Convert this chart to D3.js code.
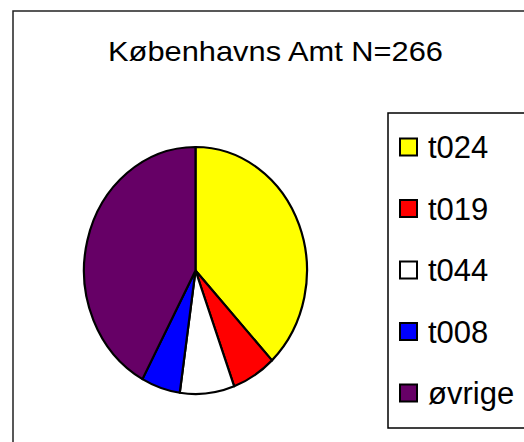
<!DOCTYPE html>
<html>
<head>
<meta charset="utf-8">
<script src="https://cdn.jsdelivr.net/npm/d3@7"></script>
<style>
  body { margin: 0; background: #fff; }
  text { font-family: "Liberation Sans", Arial, sans-serif; fill: #000; }
</style>
</head>
<body>
<div id="chart"></div>
<script>

// Chart data
let categories = ["t024", "t019", "t044", "t008", "øvrige"];
let counts = [101, 17, 21, 15, 112];
let colours = ["#ffff00", "#ff0000", "#ffffff", "#0000ff", "#660066"];
let title = "Københavns Amt N=266";

let width = 524, height = 442;

let svg = d3.select("#chart")
    .append("svg")
    .attr("width", width)
    .attr("height", height);

// Outer chart border (runs off the right and bottom edges)
svg.append("rect")
    .attr("x", 13)
    .attr("y", 11)
    .attr("width", 600)
    .attr("height", 600)
    .attr("fill", "none")
    .attr("stroke", "#222")
    .attr("stroke-width", 1.5);

// Title
svg.append("text")
    .attr("x", 108)
    .attr("y", 61)
    .attr("font-size", 28)
    .attr("textLength", 335)
    .attr("lengthAdjust", "spacingAndGlyphs")
    .text(title);

// Pie, drawn on a unit circle and stretched to the ellipse
let pieCentre = {x: 195.5, y: 270.5};
let radiusX = 111.5, radiusY = 123.5;
let r = 100;

let pie = d3.pie().sort(null).value(d => d.count);
let arc = d3.arc().innerRadius(0).outerRadius(r);

let data = categories.map(function (c, i) {
    return {name: c, count: counts[i], colour: colours[i]};
});

let pieGroup = svg.append("g")
    .attr("transform", "translate(" + pieCentre.x + "," + pieCentre.y + ") scale(" + (radiusX / r) + "," + (radiusY / r) + ")");

pieGroup.selectAll("path")
    .data(pie(data))
    .enter()
    .append("path")
    .attr("d", arc)
    .attr("fill", d => d.data.colour)
    .attr("stroke", "#000")
    .attr("stroke-width", 2.2)
    .attr("stroke-linejoin", "round")
    .attr("vector-effect", "non-scaling-stroke");

// Legend
let legend = svg.append("g");

legend.append("rect")
    .attr("x", 388)
    .attr("y", 113)
    .attr("width", 200)
    .attr("height", 315)
    .attr("fill", "none")
    .attr("stroke", "#000")
    .attr("stroke-width", 1.5);

let legendY = d3.scalePoint()
    .domain(categories)
    .range([147, 393]);

let items = legend.selectAll(".item")
    .data(data)
    .enter()
    .append("g")
    .attr("class", "item")
    .attr("transform", d => "translate(0," + legendY(d.name) + ")");

items.append("rect")
    .attr("x", 400)
    .attr("y", -8.5)
    .attr("width", 17)
    .attr("height", 17)
    .attr("fill", d => d.colour)
    .attr("stroke", "#000")
    .attr("stroke-width", 2);

items.append("text")
    .attr("x", 428)
    .attr("y", 11)
    .attr("font-size", 31)
    .text(d => d.name);

</script>
</body>
</html>
